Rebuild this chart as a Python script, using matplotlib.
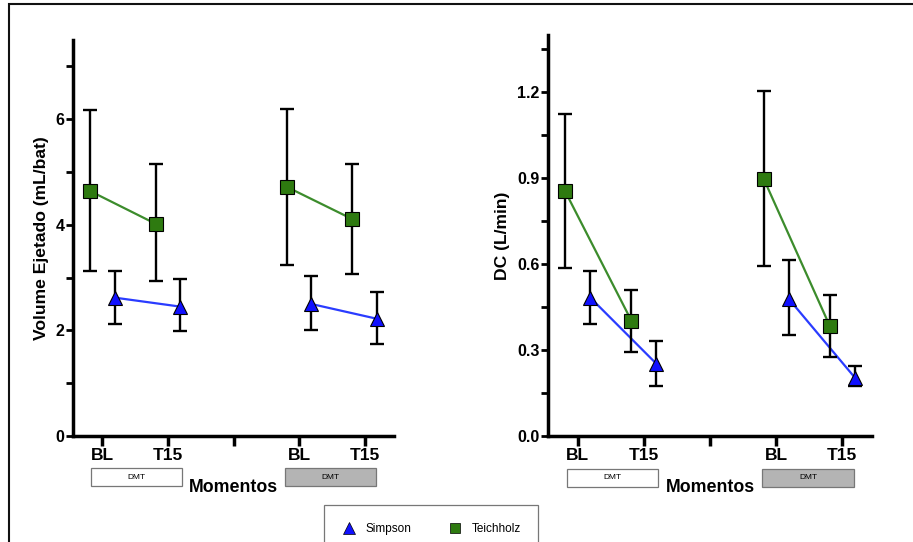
import matplotlib.pyplot as plt
from matplotlib.patches import Rectangle
from matplotlib.lines import Line2D
import matplotlib.transforms as mtransforms
import numpy as np

plt.rcParams['font.family'] = ['Liberation Sans', 'DejaVu Sans']

# positions: BL, T15 (white DMT) ; BL, T15 (grey DMT)
x_pos = [1, 2, 4, 5]
tick_labels = ['BL', 'T15', '', 'BL', 'T15']

# Volume ejetado (mL/bat)
sv_simpson = [2.62, 2.45, 2.50, 2.22]
sv_simpson_lo = [2.13, 1.98, 2.01, 1.74]
sv_simpson_hi = [3.13, 2.97, 3.03, 2.73]
sv_teich = [4.64, 4.02, 4.72, 4.11]
sv_teich_lo = [3.12, 2.93, 3.24, 3.06]
sv_teich_hi = [6.18, 5.15, 6.19, 5.16]

# DC (L/min)
dc_simpson = [0.483, 0.252, 0.479, 0.204]
dc_simpson_lo = [0.391, 0.174, 0.353, 0.174]
dc_simpson_hi = [0.576, 0.333, 0.616, 0.244]
dc_teich = [0.854, 0.403, 0.899, 0.385]
dc_teich_lo = [0.586, 0.292, 0.593, 0.276]
dc_teich_hi = [1.125, 0.509, 1.206, 0.494]

BLUE = '#1010ff'
BLUE_LINE = '#2a3cff'
GREEN = '#2e7a10'
GREEN_LINE = '#3c8c2c'
OFF = 0.19

fig = plt.figure(figsize=(9.13, 5.42), dpi=100)

# outer frame
fig.patches.append(Rectangle((9 / 913, -0.1), 1.1, 1 - 4 / 542 + 0.1, transform=fig.transFigure,
                             fill=False, edgecolor='#111111', linewidth=1.5))


def draw_series(ax, xs, mean, lo, hi, marker, face, line_color, ms):
    for i in (0, 2):
        ax.plot(xs[i:i + 2], mean[i:i + 2], color=line_color, lw=1.6, zorder=2)
    err = [np.array(mean) - np.array(lo), np.array(hi) - np.array(mean)]
    ax.errorbar(xs, mean, yerr=err, fmt='none', ecolor='black', elinewidth=1.7,
                capsize=5, capthick=1.7, zorder=3)
    ax.plot(xs, mean, ls='none', marker=marker, markersize=ms, markerfacecolor=face,
            markeredgecolor='black', markeredgewidth=0.8, zorder=4)


def setup_panel(rect, ylim, yticks, yminor, ylabel, yfmt,
                simpson, s_lo, s_hi, teich, t_lo, t_hi, momentos_x):
    ax = fig.add_axes(rect)
    xs_t = [x - OFF for x in x_pos]
    xs_s = [x + OFF for x in x_pos]
    draw_series(ax, xs_t, teich, t_lo, t_hi, 's', GREEN, GREEN_LINE, 9.5)
    draw_series(ax, xs_s, simpson, s_lo, s_hi, '^', BLUE, BLUE_LINE, 10.5)

    ax.set_xlim(0.55, 5.45)
    ax.set_ylim(*ylim)
    ax.set_xticks([1, 2, 3, 4, 5])
    ax.set_xticklabels(tick_labels, fontsize=12.5, fontweight='bold')
    ax.set_yticks(yticks)
    ax.set_yticklabels([yfmt.format(v) for v in yticks], fontsize=11.5, fontweight='bold')
    ax.set_yticks(yminor, minor=True)
    ax.tick_params(axis='y', which='both', length=5, width=2, pad=1)
    ax.tick_params(axis='x', length=7, width=2.5, pad=2)
    for s in ('top', 'right'):
        ax.spines[s].set_visible(False)
    for s in ('left', 'bottom'):
        ax.spines[s].set_linewidth(2.5)
    ax.set_ylabel(ylabel, fontsize=12.6, fontweight='bold', labelpad=5)

    trans = mtransforms.blended_transform_factory(ax.transData, ax.transAxes)
    for (x0, x1), fc in (((0.83, 2.21), 'white'), ((3.79, 5.18), '#b4b4b4')):
        ax.add_patch(Rectangle((x0, -0.127), x1 - x0, 0.045, transform=trans, clip_on=False,
                               facecolor=fc, edgecolor='#777777', linewidth=0.9))
        ax.text((x0 + x1) / 2, -0.104, 'DMT', transform=trans, fontsize=6,
                ha='center', va='center', clip_on=False)
    fig.text(momentos_x / 913, 1 - 487 / 542, 'Momentos', fontsize=12.8, fontweight='bold',
             ha='center', va='center')
    return ax


setup_panel([73 / 913, 1 - 436 / 542, 321 / 913, 396 / 542], (0, 7.5),
            [0, 2, 4, 6], [1, 3, 5, 7], 'Volume Ejetado (mL/bat)', '{:.0f}',
            sv_simpson, sv_simpson_lo, sv_simpson_hi, sv_teich, sv_teich_lo, sv_teich_hi, 233)

setup_panel([548 / 913, 1 - 436 / 542, 324 / 913, 401 / 542], (0, 1.4),
            [0, 0.3, 0.6, 0.9, 1.2], [0.15, 0.45, 0.75, 1.05, 1.35], 'DC (L/min)', '{:.1f}',
            dc_simpson, dc_simpson_lo, dc_simpson_hi, dc_teich, dc_teich_lo, dc_teich_hi, 710)

handles = [Line2D([], [], ls='none', marker='^', markersize=9, markerfacecolor=BLUE,
                  markeredgecolor='black', markeredgewidth=0.5),
           Line2D([], [], ls='none', marker='s', markersize=7, markerfacecolor=GREEN,
                  markeredgecolor='black', markeredgewidth=0.5)]
leg = fig.legend(handles, ['Simpson', 'Teichholz'], loc='upper left',
                 bbox_to_anchor=(324 / 913, 1 - 505 / 542), ncol=2, fontsize=8.5,
                 frameon=True, fancybox=False, borderpad=1.5, handlelength=1.2,
                 handletextpad=0.8, columnspacing=3.1, borderaxespad=0)
leg.get_frame().set_edgecolor('#555555')
leg.get_frame().set_linewidth(0.9)

fig.savefig('out.png', dpi=100)
